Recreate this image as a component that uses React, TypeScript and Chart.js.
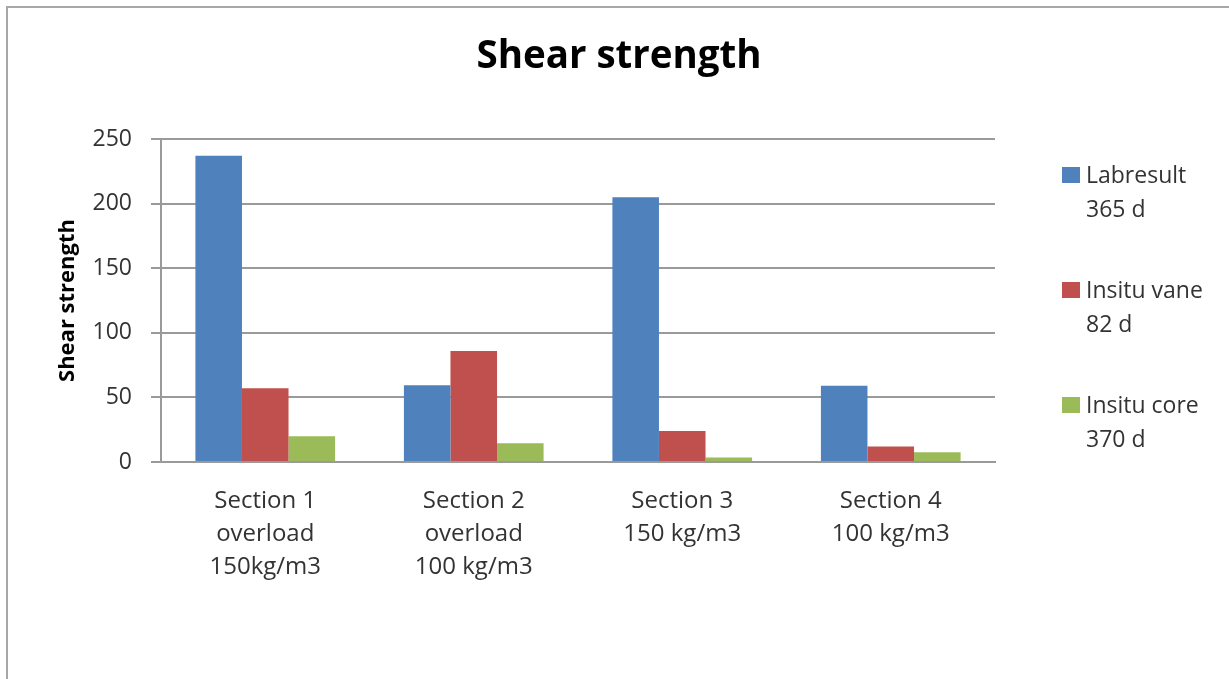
import React, { useEffect, useRef } from "react";
import { Chart, registerables } from "chart.js";

Chart.register(...registerables);

// Category labels (multi-line, as shown under each group)
const categories: string[][] = [
  ["Section 1", "overload", "150kg/m3"],
  ["Section 2", "overload", "100 kg/m3"],
  ["Section 3", "150 kg/m3"],
  ["Section 4", "100 kg/m3"],
];

// Series names (two lines each in the side legend)
const seriesNames: string[][] = [
  ["Labresult", "365 d"],
  ["Insitu vane", "82 d"],
  ["Insitu core", "370 d"],
];

// Shear strength values per section
const labresult = [237, 59.5, 205, 59];
const insituVane = [57, 86, 24, 12];
const insituCore = [20, 14.5, 3.5, 7.5];

const yMin = 0;
const yMax = 250;
const yStep = 50;

const colors = ["#4F81BD", "#C0504D", "#9BBB59"];

const FONT = "'Open Sans', Lato, sans-serif";
const GRID = "#9a9a9a";
const TEXT = "#333333";

// Chart title drawn on the canvas
const titlePlugin = {
  id: "shearTitle",
  afterDraw(chart: Chart) {
    const ctx = chart.ctx;
    ctx.save();
    ctx.font = `bold 38.5px ${FONT}`;
    ctx.fillStyle = "#000000";
    ctx.textAlign = "center";
    ctx.textBaseline = "alphabetic";
    ctx.fillText("Shear strength", 619, 68);
    ctx.restore();
  },
};

// Legend on the right with two-line entries
const sideLegendPlugin = {
  id: "sideLegend",
  afterDraw(chart: Chart) {
    const ctx = chart.ctx;
    ctx.save();
    ctx.font = `23px ${FONT}`;
    ctx.textAlign = "left";
    ctx.textBaseline = "alphabetic";
    chart.data.datasets.forEach((ds: any, i: number) => {
      const base = 183 + i * 115;
      ctx.fillStyle = ds.backgroundColor as string;
      ctx.fillRect(1062, base - 16, 18, 16);
      ctx.fillStyle = TEXT;
      const lines: string[] = ds.legendLines;
      lines.forEach((line, j) => {
        ctx.fillText(line, 1086, base + j * 33.7);
      });
    });
    ctx.restore();
  },
};

export default function App() {
  const canvasRef = useRef<HTMLCanvasElement | null>(null);

  useEffect(() => {
    if (!canvasRef.current) return;
    const values = [labresult, insituVane, insituCore];
    const chart = new Chart(canvasRef.current, {
      type: "bar",
      data: {
        labels: categories,
        datasets: values.map((data, i) => ({
          label: seriesNames[i].join(" "),
          legendLines: seriesNames[i],
          data,
          backgroundColor: colors[i],
          borderWidth: 0,
          categoryPercentage: 0.67,
          barPercentage: 1.0,
        })) as any,
      },
      options: {
        responsive: false,
        animation: false,
        layout: {
          padding: { top: 139, right: 234, bottom: 77, left: 0 },
        },
        plugins: {
          legend: { display: false },
          title: { display: false },
          tooltip: { enabled: false },
        },
        scales: {
          x: {
            afterFit: (scale: any) => {
              scale.height = 140;
            },
            grid: { display: false, drawTicks: false },
            border: { display: true, color: GRID, width: 2 },
            ticks: {
              color: TEXT,
              font: { family: FONT, size: 24, lineHeight: 1.375 },
              padding: 23,
              maxRotation: 0,
              autoSkip: false,
            },
          },
          y: {
            min: yMin,
            max: yMax,
            afterFit: (scale: any) => {
              scale.width = 161;
            },
            grid: {
              color: GRID,
              lineWidth: 2,
              drawTicks: true,
              tickLength: 10,
            },
            border: { display: true, color: GRID, width: 2 },
            ticks: {
              stepSize: yStep,
              color: TEXT,
              font: { family: FONT, size: 23 },
              padding: 19,
            },
            title: {
              display: true,
              text: "Shear strength",
              color: "#000000",
              font: { family: FONT, size: 22, weight: "bold", lineHeight: 1.2 },
              padding: { top: 55, bottom: 0 },
            },
          },
        },
      },
      plugins: [titlePlugin, sideLegendPlugin],
    });
    return () => chart.destroy();
  }, []);

  return (
    <div
      style={{
        position: "fixed",
        left: 0,
        top: 0,
        width: 1229,
        height: 679,
        overflow: "hidden",
        background: "#ffffff",
      }}
    >
      <div
        style={{
          position: "absolute",
          left: 6,
          top: 6,
          width: 1300,
          height: 800,
          borderTop: "2px solid #a8a8a8",
          borderLeft: "2px solid #a8a8a8",
        }}
      />
      <canvas
        ref={canvasRef}
        width={1229}
        height={679}
        style={{ position: "absolute", left: 0, top: 0, display: "block" }}
      />
    </div>
  );
}
